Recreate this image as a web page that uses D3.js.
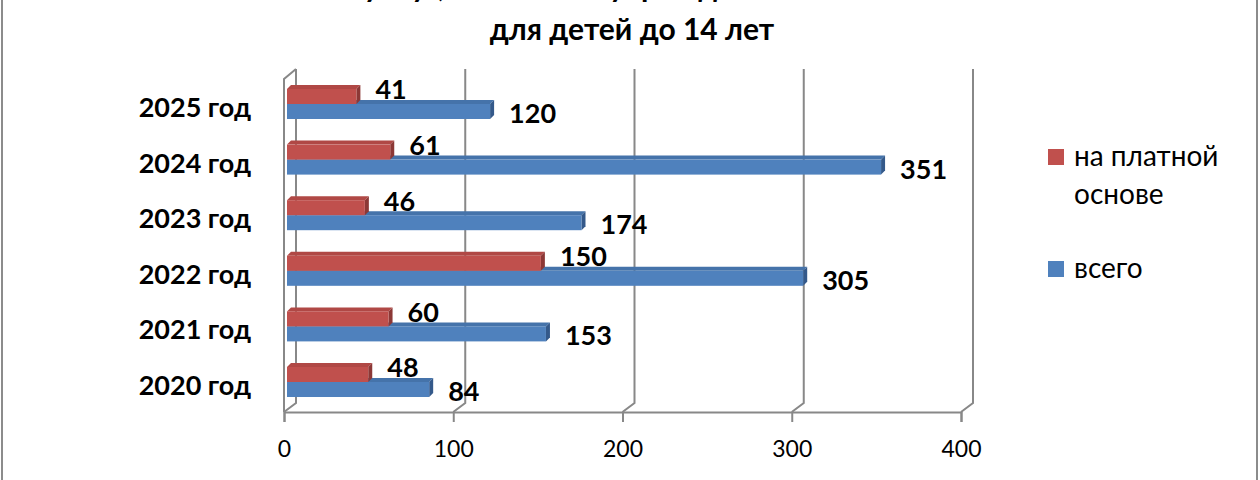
<!DOCTYPE html>
<html>
<head>
<meta charset="utf-8">
<script src="https://cdn.jsdelivr.net/npm/d3@7"></script>
<style>
  html, body { margin: 0; padding: 0; background: #fff; }
  svg { display: block; }
</style>
</head>
<body>
<div id="chart"></div>
<script>
// Chart data
const categories = ["2025 год", "2024 год", "2023 год", "2022 год", "2021 год", "2020 год"];
const paidValues = [41, 61, 46, 150, 60, 48];
const totalValues = [120, 351, 174, 305, 153, 84];
const xTicks = [0, 100, 200, 300, 400];
const seriesNames = ["на платной основе", "всего"];
const titleLines = ["Количество услуг, оказанных учреждением на платной основе", "для детей до 14 лет"];

const width = 1260, height = 480;
const fontFamily = "Lato, 'Open Sans', sans-serif";

const colors = {
  paid: { front: "#C0504D", top: "#B04845", side: "#8C3836" },
  total: { front: "#4F81BD", top: "#4573AA", side: "#34598A" }
};

const svg = d3.select("#chart")
  .append("svg")
  .attr("width", width)
  .attr("height", height);

// outer chart border
svg.append("rect")
  .attr("x", 2).attr("y", -10)
  .attr("width", 1255).attr("height", height + 20)
  .attr("fill", "none")
  .attr("stroke", "#8c8c8c")
  .attr("stroke-width", 2);

// Scales
const x = d3.scaleLinear().domain([0, 400]).range([284, 961]);
const y = d3.scaleBand().domain(categories).range([76.2, 409.8]).paddingInner(0);
const ySeries = d3.scaleBand().domain(["paid", "total"]).range([0, y.bandwidth()]).paddingOuter(0.853);

// 3D offsets
const wallDx = 12, wallDy = -9;   // back wall relative to front
const barShift = 3;               // bars sit slightly behind the front edge
const barDx = 4, barDy = -4;      // bar depth
const wallTop = 69, wallBottom = 403, floorY = 412;

const gridColor = "#888";

// Back wall gridlines + floor diagonals
const grid = svg.append("g");
xTicks.forEach(t => {
  const bx = x(t) + wallDx;
  grid.append("path")
    .attr("d", `M${bx},${wallTop} L${bx},${wallBottom} L${x(t)},${floorY}`)
    .attr("fill", "none")
    .attr("stroke", gridColor)
    .attr("stroke-width", 2);
});

// Left side wall
grid.append("path")
  .attr("d", `M${x(0)},${floorY} L${x(0)},${wallTop - wallDy + 1} L${x(0) + wallDx},${wallTop}`)
  .attr("fill", "none")
  .attr("stroke", gridColor)
  .attr("stroke-width", 2);

// X axis (front)
const xAxis = svg.append("g")
  .attr("transform", `translate(0,${floorY})`)
  .call(d3.axisBottom(x).tickValues(xTicks).tickSize(10).tickPadding(19).tickFormat(d3.format("d")));
xAxis.select(".domain").attr("stroke", gridColor).attr("stroke-width", 2);
xAxis.selectAll(".tick line").attr("stroke", gridColor).attr("stroke-width", 2);
xAxis.selectAll(".tick text")
  .attr("fill", "#000")
  .style("font-family", fontFamily)
  .style("font-size", "23px");

// Bars
function drawBar(g, value, yTop, h, c) {
  const x0 = x(0) + barShift, x1 = x(value) + barShift;
  const y0 = yTop, y1 = yTop + h;
  g.append("polygon")
    .attr("points", [[x0, y0], [x1, y0], [x1 + barDx, y0 + barDy], [x0 + barDx, y0 + barDy]].join(" "))
    .attr("fill", c.top);
  g.append("polygon")
    .attr("points", [[x1, y0], [x1 + barDx, y0 + barDy], [x1 + barDx, y1 + barDy], [x1, y1]].join(" "))
    .attr("fill", c.side);
  g.append("rect")
    .attr("x", x0).attr("y", y0)
    .attr("width", x1 - x0).attr("height", h)
    .attr("fill", c.front);
}

const bars = svg.append("g");
const labels = svg.append("g")
  .style("font-family", fontFamily)
  .style("font-weight", "bold")
  .style("font-size", "27px");

categories.forEach((cat, i) => {
  const g = bars.append("g");
  const h = ySeries.bandwidth();
  const yPaid = y(cat) + ySeries("paid");
  const yTotal = y(cat) + ySeries("total");
  // blue first so the red bar covers the top face of the blue one
  drawBar(g, totalValues[i], yTotal, h, colors.total);
  drawBar(g, paidValues[i], yPaid, h, colors.paid);

  labels.append("text")
    .attr("x", x(paidValues[i]) + barShift + 19)
    .attr("y", yPaid + h / 2 + 3)
    .text(paidValues[i]);
  labels.append("text")
    .attr("x", x(totalValues[i]) + barShift + 19)
    .attr("y", yTotal + h / 2 + 11.5)
    .text(totalValues[i]);
});

// Category labels
svg.append("g")
  .selectAll("text")
  .data(categories)
  .join("text")
  .attr("x", 251)
  .attr("y", d => y(d) + y.bandwidth() / 2 + 13)
  .attr("text-anchor", "end")
  .style("font-family", fontFamily)
  .style("font-weight", "bold")
  .style("font-size", "27px")
  .text(d => d);

// Title (first line is cut off by the top edge, as in the source picture)
svg.append("g")
  .selectAll("text")
  .data(titleLines)
  .join("text")
  .attr("x", 632)
  .attr("y", (d, i) => i === 0 ? -3 : 40)
  .attr("text-anchor", "middle")
  .style("font-family", fontFamily)
  .style("font-weight", "bold")
  .style("font-size", "30px")
  .text(d => d);

// Legend
const legendItems = [
  { lines: ["на платной", "основе"], color: colors.paid.front, y: 149 },
  { lines: ["всего"], color: colors.total.front, y: 261 }
];
const legend = svg.append("g")
  .style("font-family", fontFamily)
  .style("font-size", "28px");
legendItems.forEach(item => {
  legend.append("rect")
    .attr("x", 1048).attr("y", item.y)
    .attr("width", 16).attr("height", 16)
    .attr("fill", item.color);
  item.lines.forEach((line, j) => {
    legend.append("text")
      .attr("x", 1074)
      .attr("y", item.y + 17 + j * 38)
      .text(line);
  });
});
</script>
</body>
</html>
